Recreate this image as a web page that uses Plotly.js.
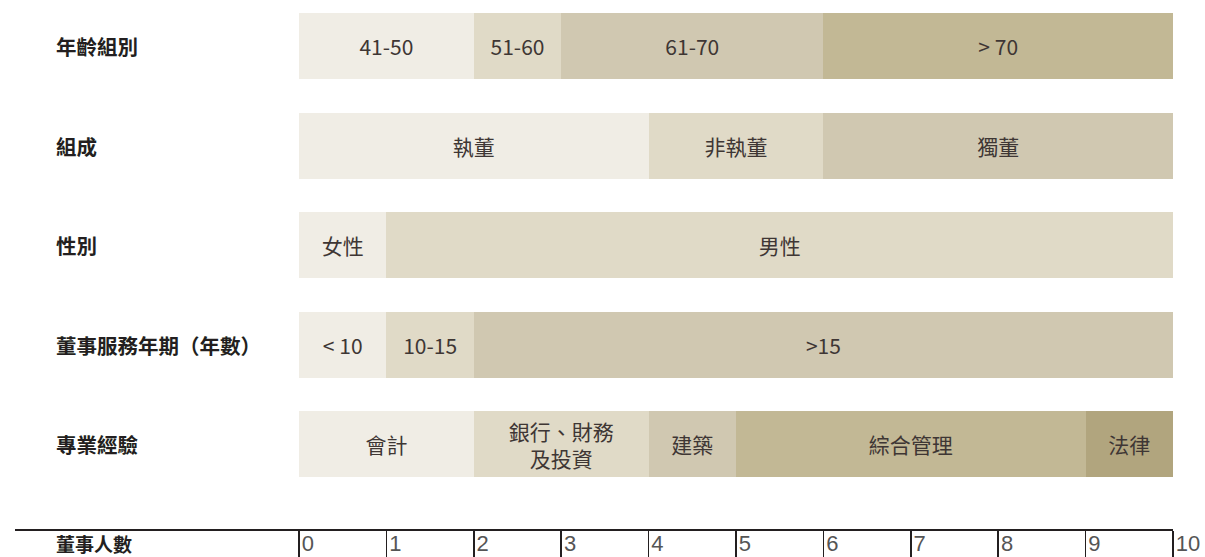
<!DOCTYPE html>
<html>
<head>
<meta charset="utf-8">
<script src="https://cdn.plot.ly/plotly-3.0.1.min.js"></script>
<style>html,body{margin:0;padding:0;background:#fff;}#chart{width:1205px;height:557px;}</style>
</head>
<body>
<div id="chart"></div>
<script>
// ---- data ----
var categories = ['年齡組別', '組成', '性別', '董事服務年期（年數）', '專業經驗'];
var ageLabels = ['41-50', '51-60', '61-70', '> 70'];
var ageCounts = [2, 1, 3, 4];
var compLabels = ['執董', '非執董', '獨董'];
var compCounts = [4, 2, 4];
var genderLabels = ['女性', '男性'];
var genderCounts = [1, 9];
var tenureLabels = ['< 10', '10-15', '>15'];
var tenureCounts = [1, 1, 8];
var expLabels = ['會計', '銀行、財務<br>及投資', '建築', '綜合管理', '法律'];
var expCounts = [2, 2, 1, 4, 1];
var tickValues = [0, 1, 2, 3, 4, 5, 6, 7, 8, 9, 10];
var tickLabels = ['0', '1', '2', '3', '4', '5', '6', '7', '8', '9', '10'];
var axisTitle = '董事人數';

// ---- style ----
var shades = ['#f0ede5', '#e0dac7', '#d0c8b1', '#c2b895', '#b1a57e'];
var textColor = '#3e3634';
var darkColor = '#231f20';
var cjk = '"Noto Sans CJK TC", "Noto Sans", sans-serif';

var rows = [
  [ageLabels, ageCounts],
  [compLabels, compCounts],
  [genderLabels, genderCounts],
  [tenureLabels, tenureCounts],
  [expLabels, expCounts]
];

var traces = [];
rows.forEach(function (row, r) {
  var labels = row[0], counts = row[1];
  labels.forEach(function (lab, i) {
    traces.push({
      type: 'bar',
      orientation: 'h',
      y: [categories[r]],
      x: [counts[i]],
      text: [lab],
      textposition: 'inside',
      insidetextanchor: 'middle',
      textangle: 0,
      textfont: {family: cjk, size: 21, color: textColor},
      marker: {color: shades[i], line: {width: 0}},
      hoverinfo: 'skip',
      showlegend: false
    });
  });
});

var labelX = (54 - 299) / 874;
var annotations = categories.map(function (c) {
  return {
    xref: 'paper', yref: 'y', x: labelX, y: c,
    xanchor: 'left', yanchor: 'middle', showarrow: false,
    text: '<b>' + c + '</b>',
    font: {family: cjk, size: 20.5, color: darkColor}
  };
});
annotations.push({
  xref: 'paper', yref: 'paper', x: labelX, y: 0,
  xanchor: 'left', yanchor: 'middle', yshift: -13, showarrow: false,
  text: '<b>' + axisTitle + '</b>',
  font: {family: cjk, size: 19, color: darkColor}
});

var layout = {
  width: 1205, height: 557,
  margin: {l: 299, r: 32, t: 3, b: 27, pad: 0},
  paper_bgcolor: '#ffffff', plot_bgcolor: '#ffffff',
  barmode: 'stack',
  bargap: 0.337,
  uniformtext: {mode: 'show', minsize: 21},
  xaxis: {
    range: [0, 10], fixedrange: true,
    showgrid: false, zeroline: false, showline: false,
    tickmode: 'array', tickvals: tickValues, ticktext: tickLabels,
    ticks: 'outside', ticklen: 27, tickwidth: 1.5, tickcolor: darkColor,
    ticklabelposition: 'outside right',
    ticklabelstandoff: -6, ticklabelshift: 2,
    tickfont: {family: '"Liberation Sans Narrow", "Liberation Sans", sans-serif', size: 22, color: '#555'}
  },
  yaxis: {
    type: 'category', categoryorder: 'array', categoryarray: categories,
    range: [4.86, -0.432], fixedrange: true,
    showgrid: false, zeroline: false, showline: false, showticklabels: false, ticks: ''
  },
  shapes: [{
    type: 'line', xref: 'paper', yref: 'paper',
    x0: (15 - 299) / 874, x1: 1, y0: 0, y1: 0,
    line: {color: darkColor, width: 2}, layer: 'above'
  }],
  annotations: annotations
};

Plotly.newPlot('chart', traces, layout, {displayModeBar: false, staticPlot: true});
</script>
</body>
</html>
